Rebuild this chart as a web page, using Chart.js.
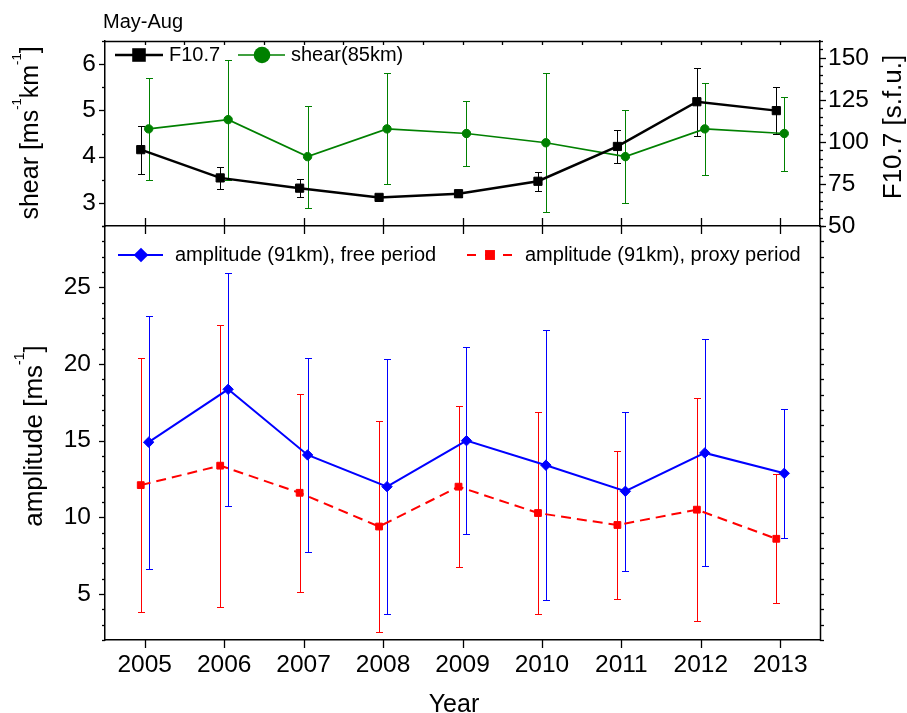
<!DOCTYPE html>
<html><head><meta charset="utf-8">
<script src="https://cdn.jsdelivr.net/npm/chart.js@4.4.1/dist/chart.umd.min.js"></script>
<style>
html,body{margin:0;padding:0;background:#fff;}
#wrap{position:relative;width:907px;height:713px;background:#fff;}
canvas{position:absolute;left:0;top:0;}
</style></head><body>
<div id="wrap">
<canvas id="bot" width="907" height="713"></canvas>
<canvas id="top" width="907" height="713"></canvas>
</div>
<script>
// ---------------- data ----------------
const years = [2005, 2006, 2007, 2008, 2009, 2010, 2011, 2012, 2013];
const f107 = [95.4, 78.6, 72.5, 67.0, 69.2, 76.6, 97.3, 123.9, 118.6];
const f107Err = [14.3, 6.5, 5.3, 2.0, 2.0, 5.5, 9.8, 20.3, 14.0];
const shear = [4.6, 4.8, 4.0, 4.6, 4.5, 4.3, 4.0, 4.6, 4.5];
const shearErr = [1.1, 1.3, 1.1, 1.2, 0.7, 1.5, 1.0, 1.0, 0.8];
const ampFree = [14.9, 18.35, 14.07, 12.0, 15.0, 13.4, 11.7, 14.2, 12.87];
const ampFreeErr = [8.25, 7.6, 6.3, 8.3, 6.1, 8.8, 5.2, 7.4, 4.2];
const ampProxy = [12.1, 13.37, 11.6, 9.4, 12.0, 10.28, 9.5, 10.5, 8.6];
const ampProxyErr = [8.3, 9.2, 6.47, 6.9, 5.27, 6.6, 4.8, 7.27, 4.2];
const shearTicks = [3, 4, 5, 6];
const f107Ticks = [50, 75, 100, 125, 150];
const ampTicks = [5, 10, 15, 20, 25];

// ---------------- layout / style ----------------
const FONT = "'Liberation Sans', Arial, Helvetica, sans-serif";
const W = 907, H = 713, L = 105, R = 820, T1 = 41, B1 = 226, B2 = 640;
const OFF = 0.05;

const fixW = w => s => { s.width = w; };
const fixH = h => s => { s.height = h; };
const setTicks = arr => s => { s.ticks = arr.map(v => ({ value: v })); };

function seg(ctx, x1, y1, x2, y2) { ctx.beginPath(); ctx.moveTo(x1, y1); ctx.lineTo(x2, y2); ctx.stroke(); }

function marker(ctx, style, r, x, y) {
  ctx.beginPath();
  if (style === 'circle') ctx.arc(x, y, r, 0, Math.PI * 2);
  else if (style === 'rectRot') { ctx.moveTo(x - r, y); ctx.lineTo(x, y - r); ctx.lineTo(x + r, y); ctx.lineTo(x, y + r); ctx.closePath(); }
  else { const s = r * Math.SQRT1_2; ctx.rect(x - s, y - s, 2 * s, 2 * s); }
  ctx.fill();
}

function drawRich(ctx, parts, x, y, rot, size, sup) {
  ctx.save(); ctx.translate(x, y); ctx.rotate(rot);
  ctx.fillStyle = '#000'; ctx.textBaseline = 'alphabetic'; ctx.textAlign = 'left';
  let w = 0;
  parts.forEach(p => { ctx.font = (p[1] ? sup : size) + 'px ' + FONT; w += ctx.measureText(p[0]).width; });
  let cx = -w / 2;
  parts.forEach(p => {
    ctx.font = (p[1] ? sup : size) + 'px ' + FONT;
    ctx.fillText(p[0], cx, p[1] ? -size * 0.68 : 0);
    cx += ctx.measureText(p[0]).width;
  });
  ctx.restore();
}

const errPlugin = {
  id: 'errBars',
  beforeDatasetsDraw(chart) {
    const ctx = chart.ctx;
    chart.data.datasets.forEach((ds, i) => {
      if (!ds.errors) return;
      const meta = chart.getDatasetMeta(i);
      const ys = chart.scales[meta.yAxisID];
      ctx.save();
      ctx.strokeStyle = ds.errColor || ds.borderColor; ctx.lineWidth = 1;
      meta.data.forEach((pt, j) => {
        const v = ds.data[j].y, e = ds.errors[j];
        const x = Math.round(pt.x) + 0.5;
        const y1 = Math.round(ys.getPixelForValue(v + e)) + 0.5;
        const y2 = Math.round(ys.getPixelForValue(v - e)) + 0.5;
        seg(ctx, x, y1, x, y2);
        seg(ctx, x - 3.5, y1, x + 3.5, y1);
        seg(ctx, x - 3.5, y2, x + 3.5, y2);
      });
      ctx.restore();
    });
  }
};

const legendPlugin = {
  id: 'legendX',
  afterDraw(chart, args, opts) {
    const ctx = chart.ctx;
    (opts.items || []).forEach(it => {
      const ds = chart.data.datasets[it.ds];
      ctx.save();
      ctx.strokeStyle = ds.borderColor; ctx.fillStyle = ds.borderColor; ctx.lineWidth = ds.borderWidth;
      ctx.setLineDash(it.dash || []);
      seg(ctx, it.x0, it.y, it.x1, it.y);
      ctx.setLineDash([]);
      marker(ctx, ds.pointStyle, it.r, it.mx, it.y);
      ctx.fillStyle = '#000'; ctx.font = '20px ' + FONT; ctx.textBaseline = 'middle'; ctx.textAlign = 'left';
      ctx.fillText(ds.label, it.tx, it.y);
      ctx.restore();
    });
  }
};

const topDecor = {
  id: 'topDecor',
  afterDraw(chart) {
    const ctx = chart.ctx, a = chart.chartArea, x = chart.scales.x, yS = chart.scales.yS, yF = chart.scales.yF;
    ctx.save(); ctx.strokeStyle = '#000';
    ctx.lineWidth = 1.5;
    seg(ctx, a.left, Math.round(a.top) + 0.5, a.right + 0.75, Math.round(a.top) + 0.5);
    ctx.lineWidth = 1.3;
    for (let v = 2004.5; v <= 2013.5; v += 0.5) {
      const px = Math.round(x.getPixelForValue(v)) + 0.5;
      if (px > a.left + 2 && px < a.right - 2) seg(ctx, px, a.top, px, a.top + 4);
    }
    years.forEach(v => {
      const px = Math.round(x.getPixelForValue(v)) + 0.5;
      seg(ctx, px, a.bottom - 8, px, a.bottom + 8);
    });
    for (let v = 2.5; v <= 6.5; v += 0.5) {
      const py = Math.round(yS.getPixelForValue(v)) + 0.5;
      const major = shearTicks.includes(v);
      seg(ctx, a.left - (major ? 6 : 3), py, a.left, py);
    }
    for (let v = 50; v <= 160; v += 5) {
      const py = Math.round(yF.getPixelForValue(v)) + 0.5;
      const major = f107Ticks.includes(v);
      seg(ctx, a.right, py, a.right + (major ? 6 : 3), py);
    }
    ctx.restore();
    ctx.save();
    ctx.fillStyle = '#000'; ctx.font = '20px ' + FONT; ctx.textBaseline = 'alphabetic'; ctx.textAlign = 'left';
    ctx.fillText('May-Aug', 103, 28);
    ctx.restore();
    drawRich(ctx, [['shear [ms', 0], ['-1', 1], ['km', 0], ['-1', 1], [']', 0]], 38, 133, -Math.PI / 2, 25, 13);
    drawRich(ctx, [['F10.7 [s.f.u.]', 0]], 901, 127, -Math.PI / 2, 26, 14);
  }
};

const botDecor = {
  id: 'botDecor',
  afterDraw(chart) {
    const ctx = chart.ctx, a = chart.chartArea, x = chart.scales.x, y = chart.scales.y;
    ctx.save(); ctx.strokeStyle = '#000';
    ctx.lineWidth = 1.5;
    const rx = Math.round(a.right) + 0.5;
    seg(ctx, rx, a.top, rx, a.bottom + 0.75);
    ctx.lineWidth = 1.3;
    years.forEach(v => {
      const px = Math.round(x.getPixelForValue(v)) + 0.5;
      seg(ctx, px, a.bottom, px, a.bottom + 8);
    });
    for (let v = 2; v <= 29; v += 1) {
      const py = Math.round(y.getPixelForValue(v)) + 0.5;
      const major = ampTicks.includes(v);
      seg(ctx, a.left - (major ? 6 : 3), py, a.left, py);
      seg(ctx, a.right, py, a.right + 4, py);
    }
    ctx.restore();
    drawRich(ctx, [['amplitude [ms', 0], ['-1', 1], [']', 0]], 41.5, 436, -Math.PI / 2, 26, 14);
    drawRich(ctx, [['Year', 0]], 454, 712, 0, 25, 14);
  }
};

const tickFont = { family: FONT, size: 24.5 };
const noGrid = { display: false, drawTicks: false };
const border = { display: true, color: '#000', width: 1.5 };

new Chart(document.getElementById('top'), {
  type: 'line',
  data: {
    datasets: [
      {
        label: 'F10.7', yAxisID: 'yF',
        data: years.map((yr, i) => ({ x: yr - OFF, y: f107[i] })),
        errors: f107Err,
        borderColor: '#000000', backgroundColor: '#000000', borderWidth: 2.5,
        pointStyle: 'rect', pointRadius: 5.8, pointBorderWidth: 1,
        pointBackgroundColor: '#000000', pointBorderColor: '#000000', tension: 0
      },
      {
        label: 'shear(85km)', yAxisID: 'yS',
        data: years.map((yr, i) => ({ x: yr + OFF, y: shear[i] })),
        errors: shearErr,
        borderColor: '#008000', backgroundColor: '#008000', borderWidth: 1.7,
        pointStyle: 'circle', pointRadius: 4.2, pointBorderWidth: 1,
        pointBackgroundColor: '#008000', pointBorderColor: '#008000', tension: 0
      }
    ]
  },
  options: {
    responsive: false, animation: false, events: [],
    layout: { padding: { top: T1, bottom: H - B1, left: 0, right: 0 } },
    plugins: {
      legend: { display: false }, tooltip: { enabled: false },
      legendX: { items: [
        { ds: 0, x0: 115, x1: 163, y: 55, mx: 139, r: 9.6, tx: 169 },
        { ds: 1, x0: 238, x1: 285, y: 55, mx: 262, r: 8.3, tx: 291 }
      ] }
    },
    scales: {
      x: { type: 'linear', position: 'bottom', min: 2004.5, max: 2013.5,
        afterBuildTicks: setTicks(years), afterFit: fixH(0),
        ticks: { display: false }, grid: noGrid, border: border },
      yS: { type: 'linear', position: 'left', min: 2.5, max: 6.5,
        afterBuildTicks: setTicks(shearTicks), afterFit: fixW(L),
        ticks: { padding: 9, color: '#000', font: tickFont, callback: v => String(v) },
        grid: noGrid, border: border },
      yF: { type: 'linear', position: 'right', min: 50, max: 160,
        afterBuildTicks: setTicks(f107Ticks), afterFit: fixW(W - R),
        ticks: { padding: 8, color: '#000', font: tickFont, callback: v => String(v) },
        grid: noGrid, border: border }
    }
  },
  plugins: [errPlugin, topDecor, legendPlugin]
});

new Chart(document.getElementById('bot'), {
  type: 'line',
  data: {
    datasets: [
      {
        label: 'amplitude (91km), free period', yAxisID: 'y',
        data: years.map((yr, i) => ({ x: yr + OFF, y: ampFree[i] })),
        errors: ampFreeErr,
        borderColor: '#0000ff', backgroundColor: '#0000ff', borderWidth: 2,
        pointStyle: 'rectRot', pointRadius: 5.2, pointBorderWidth: 1,
        pointBackgroundColor: '#0000ff', pointBorderColor: '#0000ff', tension: 0
      },
      {
        label: 'amplitude (91km), proxy period', yAxisID: 'y',
        data: years.map((yr, i) => ({ x: yr - OFF, y: ampProxy[i] })),
        errors: ampProxyErr,
        borderColor: '#ff0000', backgroundColor: '#ff0000', borderWidth: 2, borderDash: [10, 6],
        pointStyle: 'rect', pointRadius: 4.8, pointBorderWidth: 1,
        pointBackgroundColor: '#ff0000', pointBorderColor: '#ff0000', tension: 0
      }
    ]
  },
  options: {
    responsive: false, animation: false, events: [],
    layout: { padding: { top: B1, bottom: 0, left: 0, right: W - R } },
    plugins: {
      legend: { display: false }, tooltip: { enabled: false },
      legendX: { items: [
        { ds: 0, x0: 118, x1: 163, y: 255, mx: 141, r: 7.3, tx: 175 },
        { ds: 1, x0: 467, x1: 512, y: 255, mx: 490, r: 7, tx: 525, dash: [9, 9] }
      ] }
    },
    scales: {
      x: { type: 'linear', position: 'bottom', min: 2004.5, max: 2013.5,
        afterBuildTicks: setTicks(years), afterFit: fixH(H - B2),
        ticks: { padding: 11, color: '#000', font: tickFont, maxRotation: 0, autoSkip: false, callback: v => String(v) },
        grid: noGrid, border: border },
      y: { type: 'linear', position: 'left', min: 2, max: 29,
        afterBuildTicks: setTicks(ampTicks), afterFit: fixW(L),
        ticks: { padding: 14, color: '#000', font: tickFont, callback: v => String(v) },
        grid: noGrid, border: border }
    }
  },
  plugins: [errPlugin, botDecor, legendPlugin]
});
</script>
</body></html>
